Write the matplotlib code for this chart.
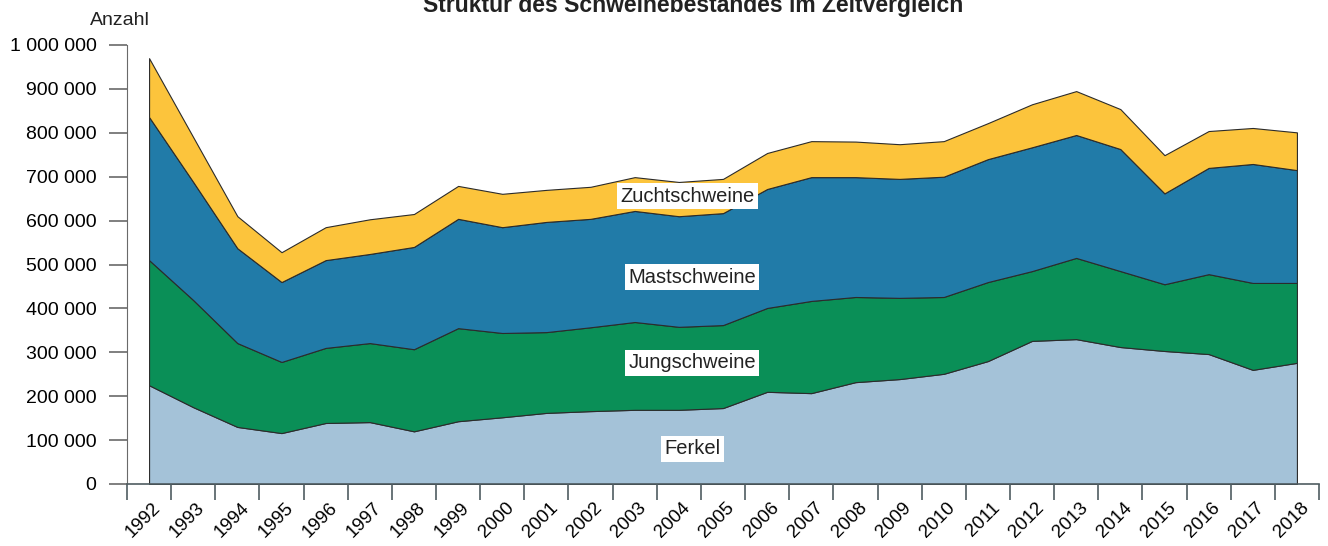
import numpy as np
import matplotlib
matplotlib.use("Agg")
import matplotlib.pyplot as plt
from matplotlib.ticker import FuncFormatter
from matplotlib.transforms import ScaledTranslation

plt.rcParams['font.family'] = ['Liberation Sans', 'DejaVu Sans']

years = list(range(1992, 2019))

# stacked components
ferkel = [225000, 175000, 130000, 116000, 139000, 141000, 120000, 143000, 152000,
          162000, 166000, 169000, 169000, 173000, 210000, 207000, 232000, 239000,
          251000, 280000, 326000, 330000, 312000, 303000, 296000, 260000, 276000]
jung = [285000, 244000, 191000, 162000, 171000, 180000, 187000, 212000, 192000,
        184000, 191000, 200000, 189000, 189000, 191000, 210000, 194000, 185000,
        175000, 180000, 159000, 185000, 173000, 152000, 182000, 198000, 182000]
mast = [326000, 269000, 216000, 182000, 200000, 203000, 233000, 249000, 241000,
        251000, 247000, 253000, 252000, 255000, 271000, 282000, 273000, 271000,
        274000, 280000, 282000, 280000, 278000, 207000, 242000, 271000, 257000]
zucht = [134000, 102000, 73000, 68000, 75000, 79000, 75000, 75000, 76000,
         73000, 73000, 77000, 78000, 78000, 82000, 82000, 81000, 79000,
         81000, 82000, 98000, 100000, 91000, 87000, 84000, 82000, 86000]

names = ["Ferkel", "Jungschweine", "Mastschweine", "Zuchtschweine"]
colors = ["#a4c2d8", "#0a8f57", "#217ba8", "#fcc43c"]

fig = plt.figure(figsize=(13.28, 5.46), dpi=100)
ax = fig.add_axes([127/1328, 1-484/546, 1192/1328, 439/546])

x = np.arange(len(years))
ax.stackplot(x, ferkel, jung, mast, zucht, colors=colors,
             edgecolor="#2b2b2b", linewidth=0.8)

ax.set_xlim(-0.5, len(years)-0.5)
ax.set_ylim(0, 1000000)

for s in ["top", "right"]:
    ax.spines[s].set_visible(False)
ax.spines["left"].set_color("#6a6a6a")
ax.spines["bottom"].set_color("#4f5c61")
ax.spines["bottom"].set_linewidth(1.2)

ax.set_yticks(np.arange(0, 1000001, 100000))
ax.yaxis.set_major_formatter(FuncFormatter(lambda v, p: f"{int(v):,}".replace(",", " ")))
ax.tick_params(axis="y", length=13, width=1.2, color="#6a6a6a", pad=9, labelsize=14)

ax.set_xticks(x)
ax.set_xticklabels([str(y) for y in years], rotation=45, ha="right", va="top",
                   rotation_mode="anchor")
ax.set_xticks(np.arange(-0.5, len(years)), minor=True)
ax.tick_params(axis="x", which="major", length=0, pad=11, labelsize=13.5)
ax.tick_params(axis="x", which="minor", length=11.5, width=1.2, color="#4f5c61")
shift = ScaledTranslation(3/100, 0, fig.dpi_scale_trans)
for lbl in ax.get_xticklabels():
    lbl.set_transform(lbl.get_transform() + shift)

label_pos = [(12.3, 80000), (12.3, 276000), (12.3, 471000), (12.2, 656000)]
for name, (lx, ly) in zip(names, label_pos):
    ax.text(lx, ly, name, ha="center", va="center", fontsize=14.5, color="#222222",
            bbox=dict(facecolor="white", edgecolor="none", pad=2.5))

fig.text(120/1328, 1-25/546, "Anzahl", ha="center", va="baseline", fontsize=14, color="#222222")
fig.text(693/1328, 1-12/546, "Struktur des Schweinebestandes im Zeitvergleich",
         ha="center", va="baseline", fontsize=16.5, fontweight="bold", color="#222222")

fig.savefig("out.png", dpi=100)
